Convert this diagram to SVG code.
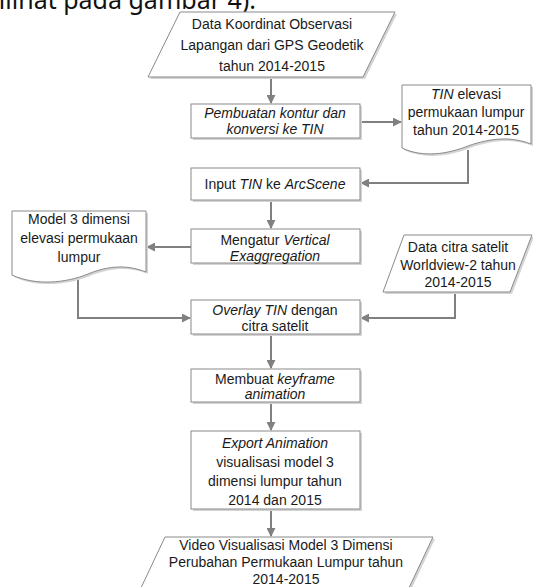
<svg xmlns="http://www.w3.org/2000/svg" width="533" height="587" viewBox="0 0 533 587">
<defs>
<marker id="ah" viewBox="0 0 10 10" refX="9" refY="5" markerWidth="4.5" markerHeight="4.5" orient="auto" markerUnits="strokeWidth">
<path d="M0,0 L10,5 L0,10 Z" fill="#808080"/>
</marker>
</defs>
<style>
.s{fill:#d4d4d4;stroke:none}
.b{fill:#ffffff;stroke:#8a8a8a;stroke-width:1}
.t{font-family:"Liberation Sans",Arial,sans-serif;font-size:14px;fill:#1a1a1a;text-anchor:middle}
.i{font-style:italic}
.c{fill:none;stroke:#808080;stroke-width:2}
.top{font-family:"Noto Sans","Open Sans",sans-serif;font-size:25px;fill:#111;text-anchor:end}
</style>
<rect x="0" y="0" width="533" height="587" fill="#ffffff"/>
<text class="top" x="256" y="9">dilihat pada gambar 4).</text>

<g id="connectors">
<path class="c" d="M271,77 V103" marker-end="url(#ah)"/>
<path class="c" d="M360,122 H401" marker-end="url(#ah)"/>
<path class="c" d="M468,150 V183 H361" marker-end="url(#ah)"/>
<path class="c" d="M271,200 V228" marker-end="url(#ah)"/>
<path class="c" d="M191,247 H147" marker-end="url(#ah)"/>
<path class="c" d="M78,280 V318 H190" marker-end="url(#ah)"/>
<path class="c" d="M455,292 V318 H361" marker-end="url(#ah)"/>
<path class="c" d="M271,334 V368" marker-end="url(#ah)"/>
<path class="c" d="M271,402 V430" marker-end="url(#ah)"/>
<path class="c" d="M271,509 V536" marker-end="url(#ah)"/>
</g>

<g id="n1">
<polygon class="s" points="182,14 397,14 365,79 150,79"/>
<polygon class="b" points="180,12 395,12 363,77 148,77"/>
<text class="t" x="272" y="29">Data Koordinat Observasi</text>
<text class="t" x="272" y="50">Lapangan dari GPS Geodetik</text>
<text class="t" x="272" y="71">tahun 2014-2015</text>
</g>

<g id="n2">
<rect class="s" x="193" y="106" width="169" height="34"/>
<rect class="b" x="191" y="104" width="169" height="34"/>
<text class="t i" x="275" y="118">Pembuatan kontur dan</text>
<text class="t i" x="275" y="134">konversi ke TIN</text>
</g>

<g id="n3">
<path class="s" d="M404,87 H533 V146 C515,139 495,139 470,148 C450,156 425,160 404,150 Z"/>
<path class="b" d="M402,85 H531 V144 C513,137 493,137 468,146 C448,154 423,158 402,148 Z"/>
<text class="t" x="466" y="99"><tspan class="i">TIN</tspan> elevasi</text>
<text class="t" x="466" y="117">permukaan lumpur</text>
<text class="t" x="466" y="135">tahun 2014-2015</text>
</g>

<g id="n4">
<rect class="s" x="193" y="170" width="169" height="32"/>
<rect class="b" x="191" y="168" width="169" height="32"/>
<text class="t" x="275" y="189">Input <tspan class="i">TIN</tspan> ke <tspan class="i">ArcScene</tspan></text>
</g>

<g id="n5">
<rect class="s" x="193" y="231" width="169" height="34"/>
<rect class="b" x="191" y="229" width="169" height="34"/>
<text class="t" x="275" y="245">Mengatur <tspan class="i">Vertical</tspan></text>
<text class="t i" x="275" y="261">Exaggregation</text>
</g>

<g id="n6">
<path class="s" d="M14,213 H148 V274 C130,267 112,267 90,276 C68,285 38,288 14,277 Z"/>
<path class="b" d="M12,211 H146 V272 C128,265 110,265 88,274 C66,283 36,286 12,275 Z"/>
<text class="t" x="79" y="224">Model 3 dimensi</text>
<text class="t" x="79" y="243">elevasi permukaan</text>
<text class="t" x="79" y="262">lumpur</text>
</g>

<g id="n7">
<polygon class="s" points="406,237 534,237 512,294 385,294"/>
<polygon class="b" points="404,235 532,235 510,292 383,292"/>
<text class="t" x="458" y="252">Data citra satelit</text>
<text class="t" x="458" y="270">Worldview-2 tahun</text>
<text class="t" x="458" y="287">2014-2015</text>
</g>

<g id="n8">
<rect class="s" x="193" y="302" width="169" height="34"/>
<rect class="b" x="191" y="300" width="169" height="34"/>
<text class="t" x="275" y="315"><tspan class="i">Overlay TIN</tspan> dengan</text>
<text class="t" x="275" y="331">citra satelit</text>
</g>

<g id="n9">
<rect class="s" x="193" y="371" width="169" height="33"/>
<rect class="b" x="191" y="369" width="169" height="33"/>
<text class="t" x="275" y="384">Membuat <tspan class="i">keyframe</tspan></text>
<text class="t i" x="275" y="399">animation</text>
</g>

<g id="n10">
<rect class="s" x="193" y="433" width="169" height="78"/>
<rect class="b" x="191" y="431" width="169" height="78"/>
<text class="t i" x="275" y="448">Export Animation</text>
<text class="t" x="275" y="467">visualisasi model 3</text>
<text class="t" x="275" y="486">dimensi lumpur tahun</text>
<text class="t" x="275" y="505">2014 dan 2015</text>
</g>

<g id="n11">
<polygon class="s" points="167,539 435,539 410,592 142,592"/>
<polygon class="b" points="165,537 433,537 408,590 140,590"/>
<text class="t" x="286" y="550">Video Visualisasi Model 3 Dimensi</text>
<text class="t" x="286" y="567">Perubahan Permukaan Lumpur tahun</text>
<text class="t" x="286" y="584">2014-2015</text>
</g>
</svg>
